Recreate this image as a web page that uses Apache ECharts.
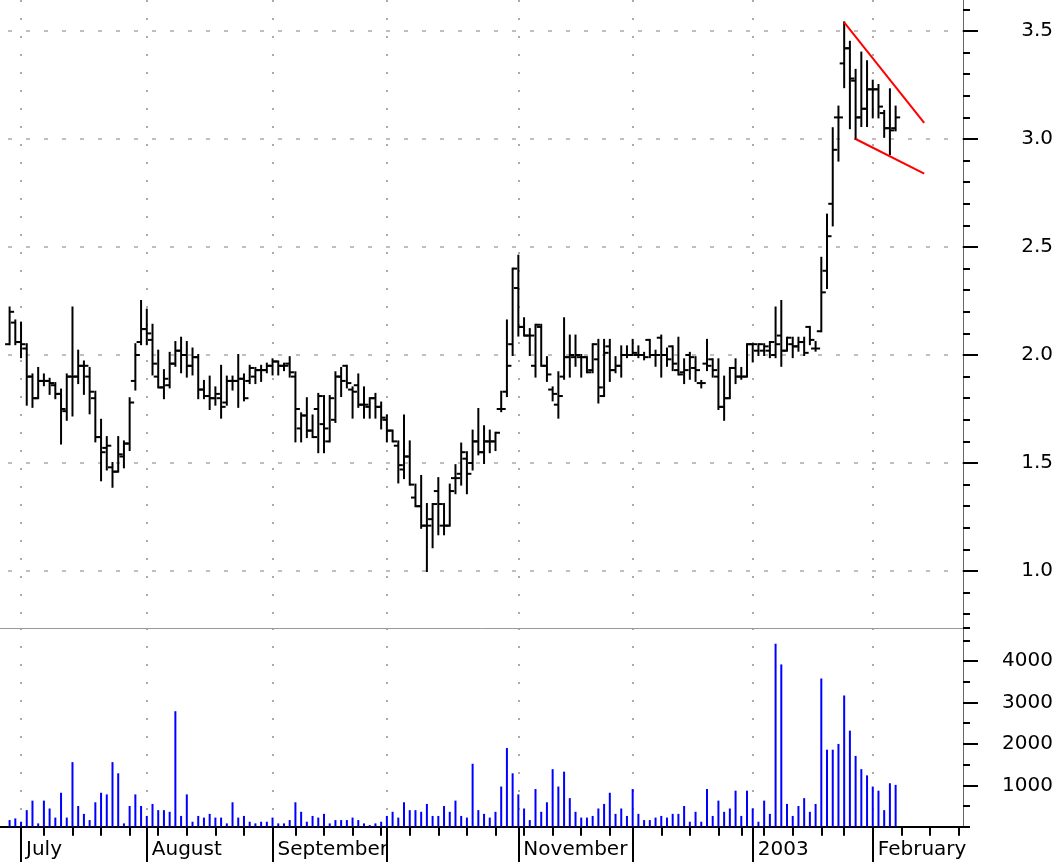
<!DOCTYPE html>
<html>
<head>
<meta charset="utf-8">
<script src="https://cdn.jsdelivr.net/npm/echarts@6/dist/echarts.min.js"></script>
<style>
  html, body { margin: 0; background: #fff; }
  #chart { width: 1056px; height: 862px; }
</style>
</head>
<body>
<div id="chart"></div>
<script>
// daily bars, one per trading day starting 27 Jun 2002
const opens = [
  2.05, 2.15, 2.06, 2.03, 1.90, 1.80, 1.88, 1.88, 1.86, 1.82,
  1.74, 1.90, 1.90, 1.95, 1.90, 1.80, 1.62, 1.57, 1.48, 1.46,
  1.53, 1.59, 1.88, 2.06, 2.12, 2.07, 1.90, 1.85, 1.86, 1.96,
  2.02, 2.00, 1.95, 1.99, 1.84, 1.81, 1.80, 1.80, 1.78, 1.88,
  1.88, 1.89, 1.88, 1.90, 1.93, 1.93, 1.95, 1.97, 1.95, 1.96,
  1.90, 1.66, 1.72, 1.65, 1.75, 1.68, 1.60, 1.70, 1.90, 1.95,
  1.84, 1.86, 1.77, 1.76, 1.80, 1.76, 1.70, 1.65, 1.58, 1.47,
  1.53, 1.34, 1.30, 1.21, 1.24, 1.37, 1.21, 1.21, 1.43, 1.45,
  1.52, 1.50, 1.60, 1.55, 1.60, 1.60, 1.75, 1.83, 2.05, 2.31,
  2.13, 2.09, 1.95, 2.13, 1.95, 1.84, 1.77, 1.90, 1.99, 1.99,
  1.99, 1.99, 1.93, 1.98, 1.81, 2.04, 1.93, 1.95, 2.00, 2.00,
  2.00, 2.00, 2.07, 2.00, 2.08, 2.00, 2.04, 1.93, 1.92, 2.00,
  1.94, 1.87, 1.96, 1.98, 1.90, 1.76, 1.80, 1.94, 1.90, 1.90,
  2.05, 2.02, 2.02, 2.02, 2.00, 2.09, 2.02, 2.05, 2.04, 2.06,
  2.13, 2.03, 2.11, 2.39, 2.70, 3.10, 3.35, 3.42, 3.27, 3.10,
  3.14, 3.23, 3.23, 3.12, 3.05, 3.05
]
const highs = [
  2.22, 2.16, 2.15, 2.05, 1.91, 1.94, 1.91, 1.89, 1.87, 1.84,
  1.91, 2.22, 2.02, 1.97, 1.94, 1.83, 1.70, 1.62, 1.50, 1.62,
  1.60, 1.80, 2.05, 2.25, 2.21, 2.14, 2.02, 1.93, 2.01, 2.06,
  2.08, 2.06, 2.03, 2.00, 1.88, 1.90, 1.85, 1.95, 1.90, 1.90,
  2.00, 1.91, 1.95, 1.94, 1.95, 1.96, 1.98, 1.97, 1.96, 1.99,
  1.92, 1.73, 1.80, 1.72, 1.82, 1.81, 1.81, 1.92, 1.94, 1.95,
  1.85, 1.91, 1.85, 1.80, 1.82, 1.78, 1.72, 1.65, 1.60, 1.72,
  1.60, 1.40, 1.44, 1.31, 1.31, 1.43, 1.31, 1.40, 1.49, 1.59,
  1.55, 1.65, 1.75, 1.67, 1.65, 1.64, 1.83, 2.16, 2.40, 2.46,
  2.17, 2.12, 2.14, 2.14, 1.99, 1.85, 1.92, 2.17, 2.09, 2.09,
  2.00, 1.99, 2.05, 2.07, 2.07, 2.07, 1.99, 2.04, 2.04, 2.07,
  2.04, 2.01, 2.07, 2.02, 2.09, 2.03, 2.04, 2.08, 1.98, 2.01,
  1.99, 1.88, 2.07, 1.98, 1.98, 1.90, 1.94, 1.98, 1.94, 2.05,
  2.05, 2.05, 2.05, 2.06, 2.22, 2.25, 2.08, 2.08, 2.08, 2.08,
  2.13, 2.06, 2.45, 2.65, 3.05, 3.15, 3.54, 3.45, 3.32, 3.40,
  3.36, 3.27, 3.25, 3.13, 3.23, 3.15
]
const lows = [
  2.05, 2.05, 1.99, 1.77, 1.76, 1.80, 1.86, 1.82, 1.80, 1.59,
  1.70, 1.72, 1.87, 1.82, 1.73, 1.60, 1.42, 1.47, 1.39, 1.46,
  1.48, 1.56, 1.84, 2.05, 2.05, 1.91, 1.85, 1.80, 1.85, 1.95,
  1.92, 1.90, 1.91, 1.80, 1.80, 1.75, 1.77, 1.71, 1.77, 1.84,
  1.76, 1.79, 1.87, 1.87, 1.88, 1.92, 1.91, 1.91, 1.93, 1.90,
  1.60, 1.60, 1.62, 1.62, 1.55, 1.55, 1.60, 1.69, 1.81, 1.85,
  1.71, 1.76, 1.71, 1.71, 1.71, 1.66, 1.60, 1.60, 1.41, 1.43,
  1.40, 1.30, 1.20, 1.00, 1.11, 1.17, 1.17, 1.21, 1.36, 1.40,
  1.36, 1.47, 1.54, 1.50, 1.55, 1.56, 1.74, 1.81, 2.00, 2.09,
  2.09, 2.00, 1.90, 1.95, 1.88, 1.79, 1.71, 1.89, 1.90, 1.95,
  1.90, 1.92, 1.92, 1.78, 1.81, 1.88, 1.92, 1.90, 1.99, 2.00,
  1.99, 1.98, 1.99, 1.95, 1.90, 1.95, 1.93, 1.91, 1.87, 1.89,
  1.88, 1.85, 1.93, 1.90, 1.75, 1.70, 1.80, 1.87, 1.89, 1.90,
  1.97, 2.00, 2.00, 1.99, 1.99, 1.95, 2.02, 1.99, 2.02, 2.00,
  2.05, 2.02, 2.11, 2.31, 2.60, 2.90, 3.24, 3.05, 3.00, 3.06,
  3.06, 3.10, 3.10, 3.01, 2.93, 3.04
]
const closes = [
  2.20, 2.06, 2.05, 1.90, 1.80, 1.88, 1.88, 1.87, 1.82, 1.75,
  1.90, 1.90, 1.95, 1.95, 1.83, 1.62, 1.55, 1.58, 1.46, 1.54,
  1.59, 1.78, 2.00, 2.12, 2.10, 1.96, 1.85, 1.89, 1.96, 2.02,
  2.00, 1.95, 1.99, 1.84, 1.81, 1.80, 1.82, 1.76, 1.88, 1.88,
  1.89, 1.80, 1.94, 1.93, 1.93, 1.95, 1.97, 1.95, 1.95, 1.92,
  1.75, 1.72, 1.65, 1.62, 1.81, 1.66, 1.80, 1.90, 1.88, 1.87,
  1.83, 1.77, 1.77, 1.80, 1.76, 1.71, 1.65, 1.60, 1.49, 1.53,
  1.40, 1.30, 1.21, 1.21, 1.31, 1.31, 1.21, 1.37, 1.43, 1.55,
  1.45, 1.60, 1.55, 1.60, 1.60, 1.64, 1.75, 1.95, 2.40, 2.13,
  2.09, 2.09, 2.14, 1.95, 1.91, 1.82, 1.81, 1.99, 2.00, 2.00,
  1.99, 1.92, 2.05, 1.85, 2.01, 1.93, 1.95, 2.00, 2.00, 2.01,
  2.00, 1.99, 2.00, 2.00, 2.00, 1.98, 1.96, 1.91, 1.93, 1.99,
  1.93, 1.87, 1.95, 1.93, 1.76, 1.80, 1.94, 1.90, 1.90, 2.05,
  2.05, 2.05, 2.04, 2.06, 2.05, 2.02, 2.08, 2.04, 2.06, 2.01,
  2.07, 2.03, 2.29, 2.55, 2.95, 3.10, 3.42, 3.28, 3.10, 3.14,
  3.23, 3.23, 3.15, 3.05, 3.04, 3.10
]
const volumes = [
  160, 200, 120, 400, 630, 80, 630, 440, 220, 820,
  220, 1560, 500, 310, 160, 590, 820, 780, 1560, 1290,
  80, 500, 780, 500, 260, 550, 400, 400, 360, 2790,
  260, 780, 120, 260, 220, 310, 220, 220, 80, 590,
  220, 260, 120, 80, 120, 120, 220, 80, 80, 160,
  590, 360, 120, 260, 220, 310, 80, 160, 160, 160,
  220, 160, 80, 40, 80, 120, 260, 360, 220, 590,
  400, 400, 360, 550, 260, 260, 500, 360, 630, 260,
  220, 1520, 400, 310, 220, 360, 970, 1900, 1290, 780,
  440, 160, 910, 360, 590, 1390, 970, 1330, 690, 360,
  220, 220, 260, 440, 550, 820, 310, 440, 260, 910,
  310, 160, 160, 220, 260, 220, 310, 310, 500, 120,
  360, 120, 910, 260, 630, 360, 440, 870, 260, 870,
  440, 120, 630, 310, 4420, 3920, 550, 260, 500, 690,
  360, 550, 3580, 1860, 1860, 2000, 3170, 2320, 1710, 1390,
  1240, 970, 870, 400, 1050, 1010
]

// market holidays skipped on the date axis
const holidays = ['2002-07-04', '2002-09-02', '2002-11-28', '2002-12-25', '2003-01-01', '2003-01-20']
// month labels (October and December are hidden by overlap in the original)
const monthNames = {
  '2002-07': 'July', '2002-08': 'August', '2002-09': 'September',
  '2002-11': 'November', '2003-01': '2003', '2003-02': 'February'
}
// pennant trend lines
const upperLine = [['2003-01-27', 3.54], ['2003-02-14', 3.075]]
const lowerLine = [['2003-01-29', 3.00], ['2003-02-14', 2.84]]

// trading-day axis, runs a couple of weeks past the last bar
const days = []
for (let t = Date.UTC(2002, 5, 27); t <= Date.UTC(2003, 1, 24); t += 86400000) {
  const d = new Date(t)
  const s = d.toISOString().slice(0, 10)
  if (d.getUTCDay() === 0 || d.getUTCDay() === 6 || holidays.includes(s)) continue
  days.push(s)
}
const monthStart = i => i > 0 && days[i].slice(0, 7) !== days[i - 1].slice(0, 7)
const weekStart = i => i > 0 && new Date(days[i]).getUTCDay() < new Date(days[i - 1]).getUTCDay()

const ohlc = opens.map((o, i) => [i, o, highs[i], lows[i], closes[i]])

const X_LEFT = 9.6
const X_WIDTH = 948.9
const FONT = { fontFamily: 'DejaVu Sans', fontSize: 20, color: '#000' }
const dotV = { color: '#aaa', type: [2, 16], width: 2 }
const dotH = { color: '#aaa', type: [4, 14], width: 1.5 }
const black2 = { color: '#000', width: 2 }

// price scale: 3.5 sits at y=31, 216px per unit, panel is 628px tall
const pMax = 3.5 + 31 / 216
const pMin = 3.5 - (628 - 31) / 216

function renderBar(params, api) {
  const i = api.value(0)
  const o = api.coord([i, api.value(1)])
  const h = api.coord([i, api.value(2)])
  const l = api.coord([i, api.value(3)])
  const c = api.coord([i, api.value(4)])
  const style = { stroke: '#000', lineWidth: 2 }
  return {
    type: 'group',
    children: [
      { type: 'line', shape: { x1: h[0], y1: h[1] - 1, x2: l[0], y2: l[1] + 1 }, style },
      { type: 'line', shape: { x1: o[0] - 4.5, y1: o[1], x2: o[0], y2: o[1] }, style },
      { type: 'line', shape: { x1: c[0], y1: c[1], x2: c[0] + 4.5, y2: c[1] }, style }
    ]
  }
}

const off = { show: false }
const noLine = { show: false, onZero: false }
const lineOnly = style => ({ show: true, onZero: false, lineStyle: style })
const hiddenValue = grid => ({ type: 'value', gridIndex: grid, min: 0, max: 1, show: false, axisLine: noLine })

const chart = echarts.init(document.getElementById('chart'), null, { renderer: 'canvas' })
chart.setOption({
  animation: false,
  textStyle: { fontFamily: 'DejaVu Sans' },
  grid: [
    { left: X_LEFT, top: 0, width: X_WIDTH, height: 628 },          // 0 price bars
    { left: X_LEFT, top: 628, width: X_WIDTH, height: 198.7 },      // 1 volume bars
    { left: X_LEFT, top: 628, width: X_WIDTH, height: 198.7 },      // 2 month ticks
    { left: 8, top: 31, width: 955, height: 540 },                  // 3 price labels
    { left: 8, top: 9.4, width: 955, height: 604.8 },               // 4 price minor ticks
    { left: 0, top: 628, width: 963, height: 198.7 },               // 5 volume labels
    { left: 0, top: 628, width: 963, height: 198.7 },               // 6 volume minor ticks
    { left: 0, top: 0, width: 963, height: 826.7 }                  // 7 right axis line
  ].map(g => Object.assign(g, { containLabel: false, outerBoundsMode: 'none' })),
  xAxis: [
    {
      type: 'category', gridIndex: 0, data: days, boundaryGap: false,
      axisLine: noLine, axisTick: off, axisLabel: off,
      splitLine: { show: true, interval: monthStart, lineStyle: dotV }
    },
    {
      type: 'category', gridIndex: 1, data: days, boundaryGap: false, position: 'bottom',
      axisLine: noLine,
      axisTick: { show: true, interval: weekStart, length: 9, lineStyle: black2 },
      axisLabel: Object.assign({
        interval: i => monthStart(i) && !!monthNames[days[i].slice(0, 7)],
        formatter: v => monthNames[v.slice(0, 7)] || '',
        align: 'left', padding: [0, 0, 0, 5], margin: 13
      }, FONT),
      splitLine: { show: true, interval: monthStart, lineStyle: dotV }
    },
    {
      type: 'category', gridIndex: 2, data: days, boundaryGap: false, position: 'bottom',
      axisLine: noLine, axisLabel: off, splitLine: off,
      axisTick: { show: true, interval: monthStart, length: 36, lineStyle: black2 }
    },
    hiddenValue(3),
    hiddenValue(4),
    {
      type: 'value', gridIndex: 5, min: 0, max: 1, position: 'bottom',
      axisLine: lineOnly(black2), axisTick: off, axisLabel: off, splitLine: off
    },
    {
      type: 'value', gridIndex: 6, min: 0, max: 1, position: 'top',
      axisLine: lineOnly({ color: '#999', width: 1 }), axisTick: off, axisLabel: off, splitLine: off
    },
    hiddenValue(7)
  ],
  yAxis: [
    { type: 'value', gridIndex: 0, min: pMin, max: pMax, show: false, axisLine: noLine },
    { type: 'value', gridIndex: 1, min: 0, max: 4800, show: false, axisLine: noLine },
    hiddenValue(2),
    {
      type: 'value', gridIndex: 3, position: 'right', min: 1, max: 3.5, interval: 0.5,
      axisLine: noLine,
      axisTick: { show: true, length: 15, lineStyle: black2 },
      axisLabel: Object.assign({ margin: 90, align: 'right', formatter: v => v.toFixed(1) }, FONT),
      splitLine: { show: true, lineStyle: dotH }
    },
    {
      type: 'value', gridIndex: 4, position: 'right', min: 0.8, max: 3.6, interval: 0.1,
      axisLine: noLine, axisLabel: off, splitLine: off,
      axisTick: { show: true, length: 7, lineStyle: black2 }
    },
    {
      type: 'value', gridIndex: 5, position: 'right', min: 0, max: 4800, interval: 1000,
      axisLine: noLine, splitLine: off,
      axisTick: { show: true, length: 15, lineStyle: black2 },
      axisLabel: Object.assign({
        margin: 90, align: 'right', showMinLabel: false, showMaxLabel: false,
        formatter: v => String(v)
      }, FONT)
    },
    {
      type: 'value', gridIndex: 6, position: 'right', min: 0, max: 4800, interval: 500,
      axisLine: noLine, axisLabel: off, splitLine: off,
      axisTick: { show: true, length: 7, lineStyle: black2 }
    },
    {
      type: 'value', gridIndex: 7, position: 'right', min: 0, max: 1,
      axisLine: lineOnly({ color: '#666', width: 1 }), axisTick: off, axisLabel: off, splitLine: off
    }
  ],
  series: [
    {
      type: 'custom', xAxisIndex: 0, yAxisIndex: 0, clip: false, silent: true,
      renderItem: renderBar, encode: { x: 0, y: [1, 2, 3, 4] }, data: ohlc
    },
    {
      type: 'bar', xAxisIndex: 1, yAxisIndex: 1, silent: true,
      barWidth: 2, itemStyle: { color: '#0000ff' }, data: volumes
    },
    {
      type: 'line', xAxisIndex: 0, yAxisIndex: 0, silent: true, symbol: 'none',
      lineStyle: { color: '#ff0000', width: 2 }, data: upperLine
    },
    {
      type: 'line', xAxisIndex: 0, yAxisIndex: 0, silent: true, symbol: 'none',
      lineStyle: { color: '#ff0000', width: 2 }, data: lowerLine
    }
  ]
})
</script>
</body>
</html>
